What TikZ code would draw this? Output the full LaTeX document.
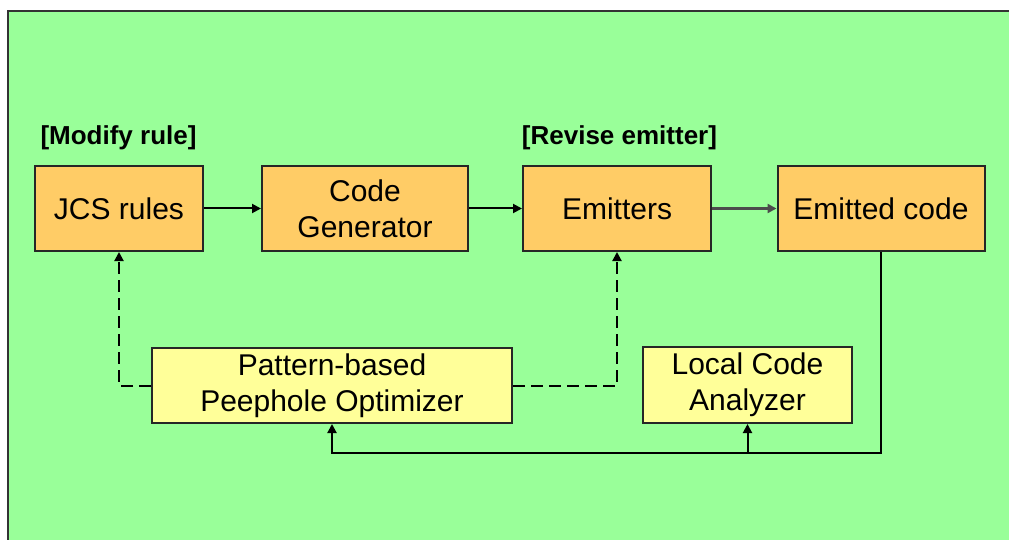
\documentclass[tikz,border=0pt]{standalone}
\usepackage{fontspec}
\setmainfont{Liberation Sans}
\usetikzlibrary{arrows.meta}
\definecolor{bggreen}{HTML}{99FF99}
\definecolor{stageorange}{HTML}{FFCC66}
\definecolor{helperyellow}{HTML}{FFFF99}
\definecolor{framegray}{HTML}{333333}

\tikzset{
  stage/.style={draw=black!85, line width=2pt, fill=stageorange, minimum height=85pt,
    inner sep=0pt, align=center, font=\fontsize{30}{36}\selectfont},
  helper/.style={draw=black!85, line width=2pt, fill=helperyellow, minimum height=75pt,
    inner sep=0pt, align=center, font=\fontsize{30}{36}\selectfont},
  tag/.style={inner sep=0pt, font=\fontsize{26}{31}\selectfont\bfseries},
  arr/.style={draw=black, line width=2pt, -{Triangle[length=9pt,width=9pt]}},
  dasharr/.style={arr, dash pattern=on 12pt off 6pt},
}

\begin{document}
\begin{tikzpicture}[x=1pt, y=-1pt]
  \useasboundingbox (0,0) rectangle (1009,540);
  % background panel
  \fill[bggreen] (8,11) rectangle (1009,540);
  \draw[framegray, line width=2.5pt] (8,540) -- (8,11) -- (1009,11);

  % pipeline stages
  \node[stage, minimum width=168pt] (jcs)  at (119,208.5) {JCS rules};
  \node[stage, minimum width=206pt] (gen)  at (365,208.5) {Code\\Generator};
  \node[stage, minimum width=188pt] (emit) at (617,208.5) {Emitters};
  \node[stage, minimum width=207pt] (out)  at (881,208.5) {Emitted code};

  % annotations
  \node[tag] (modify) at (118.5,138) {[Modify rule]};
  \node[tag] (revise) at (619.5,138) {[Revise emitter]};

  % helper tools
  \node[helper, minimum width=360pt] (peep) at (332,385.5) {Pattern-based\\Peephole Optimizer};
  \node[helper, minimum width=209pt, minimum height=76pt] (lca) at (747.5,385) {Local Code\\Analyzer};

  % forward flow
  \draw[arr] (jcs) -- (gen);
  \draw[arr] (gen) -- (emit);
  \draw[arr, draw=black!70, line width=2.5pt] (emit) -- (out);

  % feedback bus from emitted code
  \coordinate (busL) at (332,453);
  \draw[arr] (out.south) |- (busL) -- (peep.south);
  \draw[arr] (lca.south |- busL) -- (lca.south);

  % optimizer feedback to rules and emitters
  \draw[dasharr] (peep.west) -| (jcs.south);
  \draw[dasharr] (peep.east) -| (emit.south);
\end{tikzpicture}
\end{document}
